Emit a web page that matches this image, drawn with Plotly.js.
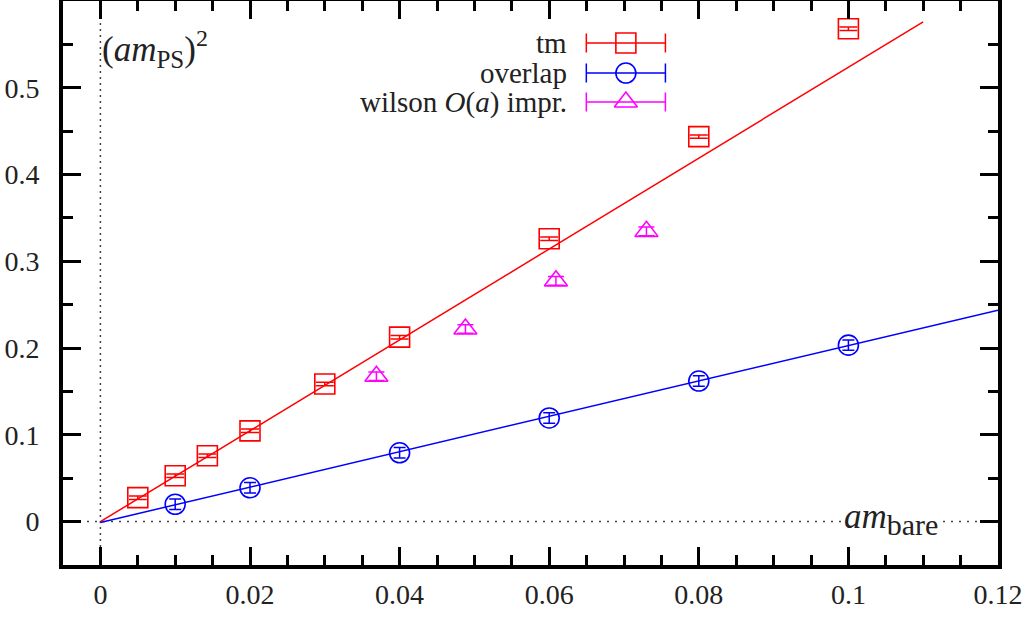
<!DOCTYPE html>
<html>
<head>
<meta charset="utf-8">
<script src="https://cdn.plot.ly/plotly-3.0.1.min.js"></script>
<style>html,body{margin:0;padding:0;background:#fff;}#chart{width:1036px;height:617px;}</style>
</head>
<body>
<div id="chart"></div>
<script>
// ---- data ----
const tmX   = [0.005, 0.01, 0.0143, 0.02, 0.03, 0.04, 0.06, 0.08, 0.1];
const tmY   = [0.0276, 0.0529, 0.0759, 0.1046, 0.1586, 0.2126, 0.3260, 0.4437, 0.5680];
const tmErr = [0.002, 0.002, 0.002, 0.002, 0.002, 0.002, 0.002, 0.002, 0.002];

const ovX   = [0.01, 0.02, 0.04, 0.06, 0.08, 0.1];
const ovY   = [0.0200, 0.0390, 0.0793, 0.1195, 0.1620, 0.2034];
const ovErr = [0.006, 0.006, 0.006, 0.006, 0.006, 0.006];

const wiX   = [0.0369, 0.0488, 0.0609, 0.0730];
const wiY   = [0.1675, 0.2220, 0.2775, 0.3345];
const wiErr = [0.005, 0.005, 0.005, 0.005];

const tmFitX = [0, 0.11];
const tmFitY = [0.0, 0.576];
const ovFitX = [0, 0.12];
const ovFitY = [-0.001, 0.2437];

const xTickVals = [0, 0.02, 0.04, 0.06, 0.08, 0.1, 0.12];
const xTickText = ["0", "0.02", "0.04", "0.06", "0.08", "0.1", "0.12"];
const yTickVals = [0, 0.1, 0.2, 0.3, 0.4, 0.5];
const yTickText = ["0", "0.1", "0.2", "0.3", "0.4", "0.5"];

const seriesNames = ["tm", "overlap", "wilson <i>O</i>(<i>a</i>) impr."];
const seriesColors = ["#ff0000", "#0000ff", "#ff00ff"];
const seriesSymbols = ["square-open", "circle-open", "triangle-up-open"];

// ---- plot ----
const FONT = "Liberation Serif, Times New Roman, serif";
const TXT = '#222';
const traces = [
  {x: tmFitX, y: tmFitY, mode: 'lines', line: {color: seriesColors[0], width: 1.5}, hoverinfo: 'skip'},
  {x: ovFitX, y: ovFitY, mode: 'lines', line: {color: seriesColors[1], width: 1.5}, hoverinfo: 'skip'},
  {x: tmX, y: tmY, mode: 'markers', name: seriesNames[0],
   marker: {symbol: seriesSymbols[0], size: 20, color: seriesColors[0], line: {width: 1.6, color: seriesColors[0]}},
   error_y: {type: 'data', array: tmErr, color: seriesColors[0], thickness: 1.5, width: 9}},
  {x: ovX, y: ovY, mode: 'markers', name: seriesNames[1],
   marker: {symbol: seriesSymbols[1], size: 20, color: seriesColors[1], line: {width: 1.6, color: seriesColors[1]}},
   error_y: {type: 'data', array: ovErr, color: seriesColors[1], thickness: 1.5, width: 6}},
  {x: wiX, y: wiY, mode: 'markers', name: seriesNames[2],
   marker: {symbol: seriesSymbols[2], size: 20, color: seriesColors[2], line: {width: 1.6, color: seriesColors[2]}},
   error_y: {type: 'data', array: wiErr, color: seriesColors[2], thickness: 1.5, width: 8}}
];

// custom gnuplot-style key drawn on a hidden overlay axis (0..1 over the plot area)
const keyX = 0.602, keyHalf = 0.0423;
const keyRows = [0.9255, 0.8723, 0.8209];
for (let i = 0; i < 3; i++) {
  traces.push({
    x: [keyX], y: [keyRows[i]], xaxis: 'x2', yaxis: 'y2', mode: 'markers', hoverinfo: 'skip',
    marker: {symbol: seriesSymbols[i], size: 20, color: seriesColors[i], line: {width: 1.6, color: seriesColors[i]}},
    error_x: {type: 'constant', value: keyHalf, color: seriesColors[i], thickness: 1.5, width: 9.5}
  });
}

const annotations = keyRows.map((r, i) => ({
  xref: 'paper', yref: 'paper', x: 0.541, y: r, xanchor: 'right', yanchor: 'middle',
  text: seriesNames[i], showarrow: false, font: {family: FONT, size: 29, color: TXT}
}));
annotations.push({
  xref: 'paper', yref: 'paper', x: 0.040, y: 0.915, xanchor: 'left', yanchor: 'middle',
  text: '(<i>am</i><sub><span style="font-size:25px">PS</span></sub>)<sup><span style="font-size:24px">2</span></sup>',
  showarrow: false, font: {family: FONT, size: 35, color: TXT}
});
annotations.push({
  xref: 'paper', yref: 'paper', x: 0.8856, y: 0.082, xanchor: 'center', yanchor: 'middle',
  text: '<i>am</i><sub><span style="font-size:30px">bare</span></sub>', showarrow: false, bgcolor: '#ffffff', borderpad: 2,
  font: {family: FONT, size: 35, color: TXT}
});

const axisCommon = {
  showline: true, linecolor: '#000', linewidth: 4, mirror: 'allticks',
  ticks: 'inside', ticklen: 18, tickwidth: 3, tickcolor: '#000',
  showgrid: false, zeroline: false,
  tickfont: {family: FONT, size: 28, color: TXT}
};

const layout = {
  width: 1036, height: 617,
  margin: {l: 63, r: 38, t: 1, b: 52},
  paper_bgcolor: '#fff', plot_bgcolor: '#fff',
  showlegend: false,
  xaxis: Object.assign({}, axisCommon, {
    range: [-0.005, 0.12], tickmode: 'array', tickvals: xTickVals, ticktext: xTickText,
    minor: {tickmode: 'linear', tick0: 0, dtick: 0.005, ticks: 'inside', ticklen: 10, tickwidth: 3, tickcolor: '#000', showgrid: false},
    ticklabelstandoff: 1
  }),
  yaxis: Object.assign({}, axisCommon, {
    range: [-0.05, 0.6], tickmode: 'array', tickvals: yTickVals, ticktext: yTickText,
    minor: {tickmode: 'linear', tick0: 0, dtick: 0.05, ticks: 'inside', ticklen: 10, tickwidth: 3, tickcolor: '#000', showgrid: false},
    ticklabelstandoff: 14
  }),
  xaxis2: {overlaying: 'x', range: [0, 1], visible: false, fixedrange: true},
  yaxis2: {overlaying: 'y', range: [0, 1], visible: false, fixedrange: true},
  shapes: [
    {type: 'line', xref: 'x', yref: 'paper', x0: 0, x1: 0, y0: 0, y1: 1, layer: 'below',
     line: {color: '#444', width: 1.5, dash: '2px,4px'}},
    {type: 'line', xref: 'paper', yref: 'y', x0: 0, x1: 1, y0: 0, y1: 0, layer: 'below',
     line: {color: '#444', width: 1.5, dash: '2px,6px'}}
  ],
  annotations: annotations
};

Plotly.newPlot('chart', traces, layout, {displayModeBar: false, staticPlot: true});
</script>
</body>
</html>
